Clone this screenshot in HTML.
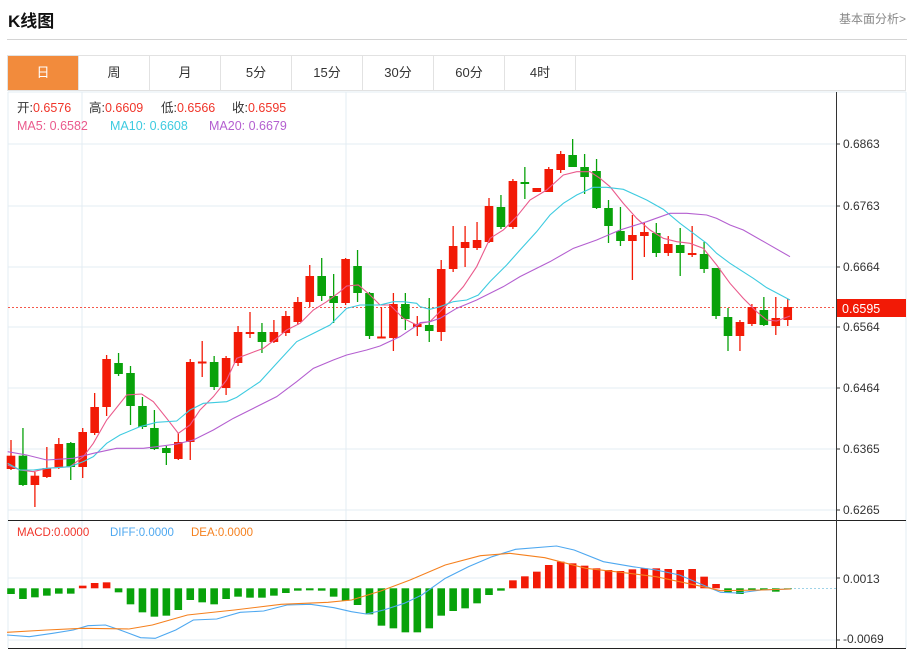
<!DOCTYPE html>
<html><head><meta charset="utf-8"><style>
body{margin:0;width:914px;height:652px;background:#fff;font-family:"Liberation Sans","Noto Sans CJK SC",sans-serif;overflow:hidden;position:relative}
.t{position:absolute;left:8px;top:7px;font-size:17px;font-weight:bold;color:#111}
.r{position:absolute;right:8px;top:10px;font-size:12px;color:#888}
.hl{position:absolute;left:7px;right:7px;top:39px;height:1px;background:#d4d4d4}
.tabs{position:absolute;left:7px;top:55px;width:899px;height:36px;border:1px solid #e2e2e2;box-sizing:border-box;display:flex}
.tabs div{width:70px;border-right:1px solid #e2e2e2;text-align:center;line-height:34px;font-size:13px;color:#333}
.tabs div.a{background:#f28b3c;color:#fff}
svg{position:absolute;left:0;top:0}
</style></head><body>
<div class="t">K线图</div><div class="r">基本面分析&gt;</div><div class="hl"></div>
<div class="tabs"><div class="a">日</div><div>周</div><div>月</div><div>5分</div><div>15分</div><div>30分</div><div>60分</div><div>4时</div></div>
<svg id="s" width="914" height="652" xmlns="http://www.w3.org/2000/svg" font-family="Liberation Sans, Noto Sans CJK SC, sans-serif">
<g stroke="#e3ecf3" stroke-width="1">
<line x1="8" y1="92" x2="906" y2="92"/>
<line x1="8" y1="144" x2="836" y2="144"/><line x1="8" y1="206" x2="836" y2="206"/><line x1="8" y1="267" x2="836" y2="267"/><line x1="8" y1="327" x2="836" y2="327"/><line x1="8" y1="388" x2="836" y2="388"/><line x1="8" y1="449" x2="836" y2="449"/><line x1="8" y1="510" x2="836" y2="510"/>
<line x1="8" y1="578" x2="836" y2="578"/><line x1="8" y1="640" x2="836" y2="640"/>
<line x1="8" y1="92" x2="8" y2="648"/><line x1="82" y1="92" x2="82" y2="648"/><line x1="346" y1="92" x2="346" y2="648"/><line x1="906" y1="92" x2="906" y2="648"/>
</g>
<line x1="8" y1="520.5" x2="906" y2="520.5" stroke="#222"/>
<line x1="8" y1="648.5" x2="906" y2="648.5" stroke="#222"/>
<line x1="836.5" y1="92" x2="836.5" y2="648" stroke="#333"/>
<g font-size="12" fill="#333">
<text x="843" y="148">0.6863</text><text x="843" y="210">0.6763</text><text x="843" y="271">0.6664</text><text x="843" y="331">0.6564</text><text x="843" y="392">0.6464</text><text x="843" y="453">0.6365</text><text x="843" y="514">0.6265</text>
<text x="843" y="583">0.0013</text><text x="843" y="643">-0.0069</text>
</g>
<g stroke="#333"><line x1="836" y1="144" x2="840" y2="144"/><line x1="836" y1="206" x2="840" y2="206"/><line x1="836" y1="267" x2="840" y2="267"/><line x1="836" y1="327" x2="840" y2="327"/><line x1="836" y1="388" x2="840" y2="388"/><line x1="836" y1="449" x2="840" y2="449"/><line x1="836" y1="510" x2="840" y2="510"/><line x1="836" y1="578" x2="840" y2="578"/><line x1="836" y1="640" x2="840" y2="640"/></g>
<line x1="8" y1="307.5" x2="836" y2="307.5" stroke="#f5584a" stroke-dasharray="2,2"/>
<line x1="790" y1="588.5" x2="836" y2="588.5" stroke="#9fd3e8" stroke-dasharray="2,2"/>
<rect x="837" y="299" width="69" height="18" fill="#f21a06"/>
<text x="842" y="313" font-size="12.5" fill="#fff">0.6595</text>
<g font-size="12.5">
<text x="17" y="112" fill="#333">开:<tspan fill="#f0352a">0.6576</tspan></text>
<text x="89" y="112" fill="#333">高:<tspan fill="#f0352a">0.6609</tspan></text>
<text x="161" y="112" fill="#333">低:<tspan fill="#f0352a">0.6566</tspan></text>
<text x="232" y="112" fill="#333">收:<tspan fill="#f0352a">0.6595</tspan></text>
<text x="17" y="130" fill="#ea5a8c">MA5: 0.6582</text>
<text x="110" y="130" fill="#3ecbe0">MA10: 0.6608</text>
<text x="209" y="130" fill="#b45fd0">MA20: 0.6679</text>
</g>
<g font-size="11.5">
<text x="17" y="536" fill="#f0352a">MACD:0.0000</text>
<text x="110" y="536" fill="#4ea8f0">DIFF:0.0000</text>
<text x="191" y="536" fill="#f5801e">DEA:0.0000</text>
</g>
<g id="c"></g>
</svg>
<script>
var K=[[455.7,469,440,470,1],[455.7,485,428,486,0],[475.7,485,472,507,1],[468,477,447,478,1],[444,467,438,469,1],[443,467,442,480,0],[432,467,428,478,1],[407,433,393,435,1],[359,407,355,416,1],[363,374,353,376,0],[373,406,366,425,0],[406,427,397,429,0],[428,449,410,450,0],[448,453,446,465,0],[442,459,433,460,1],[362,442,359,460,1],[361.5,363.5,341,377,1],[362,387,356,390,0],[358,388,356,395,1],[332,363,326,366,1],[332,334,312,338,1],[332,342,323,353,0],[332,342,320,343,1],[316,333,311,336,1],[302,322,297,325,1],[276,302,265,307,1],[276,296,258,301,0],[296,303,274,323,0],[259,303,258,305,1],[266,293,250,302,0],[293,336,292,339,0],[336.5,338.5,307,338.5,1],[304,338,293,351,1],[304,319,293,330,0],[324,327,316,336,1],[325,331,298,342,0],[269,332,260,341,1],[246,269,226,272,1],[242,248,226,267,1],[240,248,222,250,1],[206,242,198,243,1],[207,227,195,229,0],[181,227,179,229,1],[182,184,167,199,0],[188,192,188,192,1],[169,192,167,192,1],[154,170,151,173,1],[155,167,139,167,0],[167,177,154,194,0],[171,208,159,209,0],[208,226,200,243,0],[231,241,207,246,0],[235,241,215,280,1],[232,236,223,257,1],[233,253,223,257,0],[244,253,236,256,1],[245,253,228,276,0],[253,255,226,257,1],[254,269,242,273,0],[268,316,268,319,0],[317,336,308,351,0],[322,336,320,351,1],[307,324,304,326,1],[310,325,297,326,0],[318,326,297,335,1],[307,320,299,326,1]];
var M=[237,252,247,242,236,236,212,204,202,232,268,292,305,302,285,255,262,268,252,245,248,248,242,234,227,226,227,245,257,270,298,332,340,352,352,340,302,288,280,265,240,227,196,184,170,150,140,145,152,160,165,168,163,160,160,162,165,162,185,207,232,237,226,225,230,222];
var h='',R='#f21a06',G='#08a20a';
function X(i){return 11+i*11.95}
K.forEach(function(k,i){var x=X(i),c=k[4]?R:G;h+='<line x1="'+x+'" y1="'+k[2]+'" x2="'+x+'" y2="'+k[3]+'" stroke="'+c+'" stroke-width="1.3"/>';h+='<rect x="'+(x-4.3)+'" y="'+k[0]+'" width="8.6" height="'+Math.max(1.5,k[1]-k[0])+'" fill="'+c+'"/>';});
M.forEach(function(v,i){var x=X(i),y=515+v/3,z=588.3,c=y<z?R:G;h+='<rect x="'+(x-3.8)+'" y="'+Math.min(y,z)+'" width="7.6" height="'+Math.max(1,Math.abs(y-z))+'" fill="'+c+'"/>';});
function P(a,b,c){var s='';for(var i=0;i<a.length;i+=2){s+=(a[i]/3+b)+','+(90+a[i+1]/3)+' ';}return s;}
function L(a1,a2,col){return '<polyline fill="none" stroke="'+col+'" stroke-width="1.1" points="'+P(a1,0)+P(a2,420)+'"/>';}
h+=L([23,1125,60,1140,100,1145,140,1135,210,1130,250,1100,280,1060,320,990,380,915,425,912,460,935,500,985,535,1030,570,1005,600,960,640,920,680,870,710,805,750,790,790,775,830,745,860,720,900,700,940,660,980,635,1020,605,1040,588,1075,585,1110,615,1140,645,1170,645,1210,685,1250,705],[0,700,30,695,60,665,90,635,130,590,170,530,210,445,250,420,290,380,330,330,380,300,430,255,470,245,510,245,540,265,570,290,610,340,650,385,690,420,730,445,770,455,810,460,850,475,890,525,930,580,970,625,1010,665,1040,690,1070,693,1110,678],'#ea5a8c');
h+=L([23,1120,60,1140,100,1140,140,1135,210,1130,250,1115,280,1100,320,1060,360,1035,420,1010,470,997,530,993,570,960,610,940,680,935,710,922,780,875,830,820,890,755,940,730,990,705,1040,655,1080,645,1140,645,1180,635,1210,635,1250,640],[0,650,30,658,60,650,100,635,140,630,175,615,210,575,260,525,300,480,350,425,390,375,430,340,470,315,520,292,560,292,610,298,680,330,730,358,780,400,820,430,860,460,890,490,930,520,1000,565,1040,593,1110,630],'#3ecbe0');
h+=L([23,1085,80,1095,140,1110,220,1105,280,1090,350,1075,430,1075,470,1070,530,1062,580,1050,640,1020,700,985,760,955,830,920,890,875,940,835,1000,810,1040,795,1100,780,1140,768,1200,740,1260,700],[0,698,30,695,60,685,110,655,170,630,250,590,300,560,390,515,460,475,530,450,600,420,680,395,750,370,800,370,860,375,890,385,930,405,970,420,1040,460,1110,500],'#b45fd0');
function Q(a,col){var s='';for(var i=0;i<a.length;i+=2)s+=(a[i]/1.707)+','+(515+a[i+1]/3)+' ';return '<polyline fill="none" stroke="'+col+'" stroke-width="1.1" points="'+s+'"/>';}
h+=Q([12,360,50,365,90,355,125,345,150,332,180,330,205,345,240,368,265,370,300,345,330,315,370,312,410,292,450,288,490,270,530,268,570,278,600,290,625,297,655,285,690,265,720,240,760,190,800,155,840,125,880,103,950,93,980,105,1030,140,1080,155,1120,165,1160,180,1200,210,1230,232,1260,234,1300,225,1350,222],'#4ea8f0');
h+=Q([12,352,80,345,140,340,220,342,260,330,320,300,400,285,480,268,560,262,600,255,650,228,700,195,760,150,820,122,870,115,930,128,1000,160,1060,172,1120,185,1200,215,1230,227,1300,225,1350,222],'#f5801e');
document.getElementById('c').innerHTML=h;
</script>
</body></html>
